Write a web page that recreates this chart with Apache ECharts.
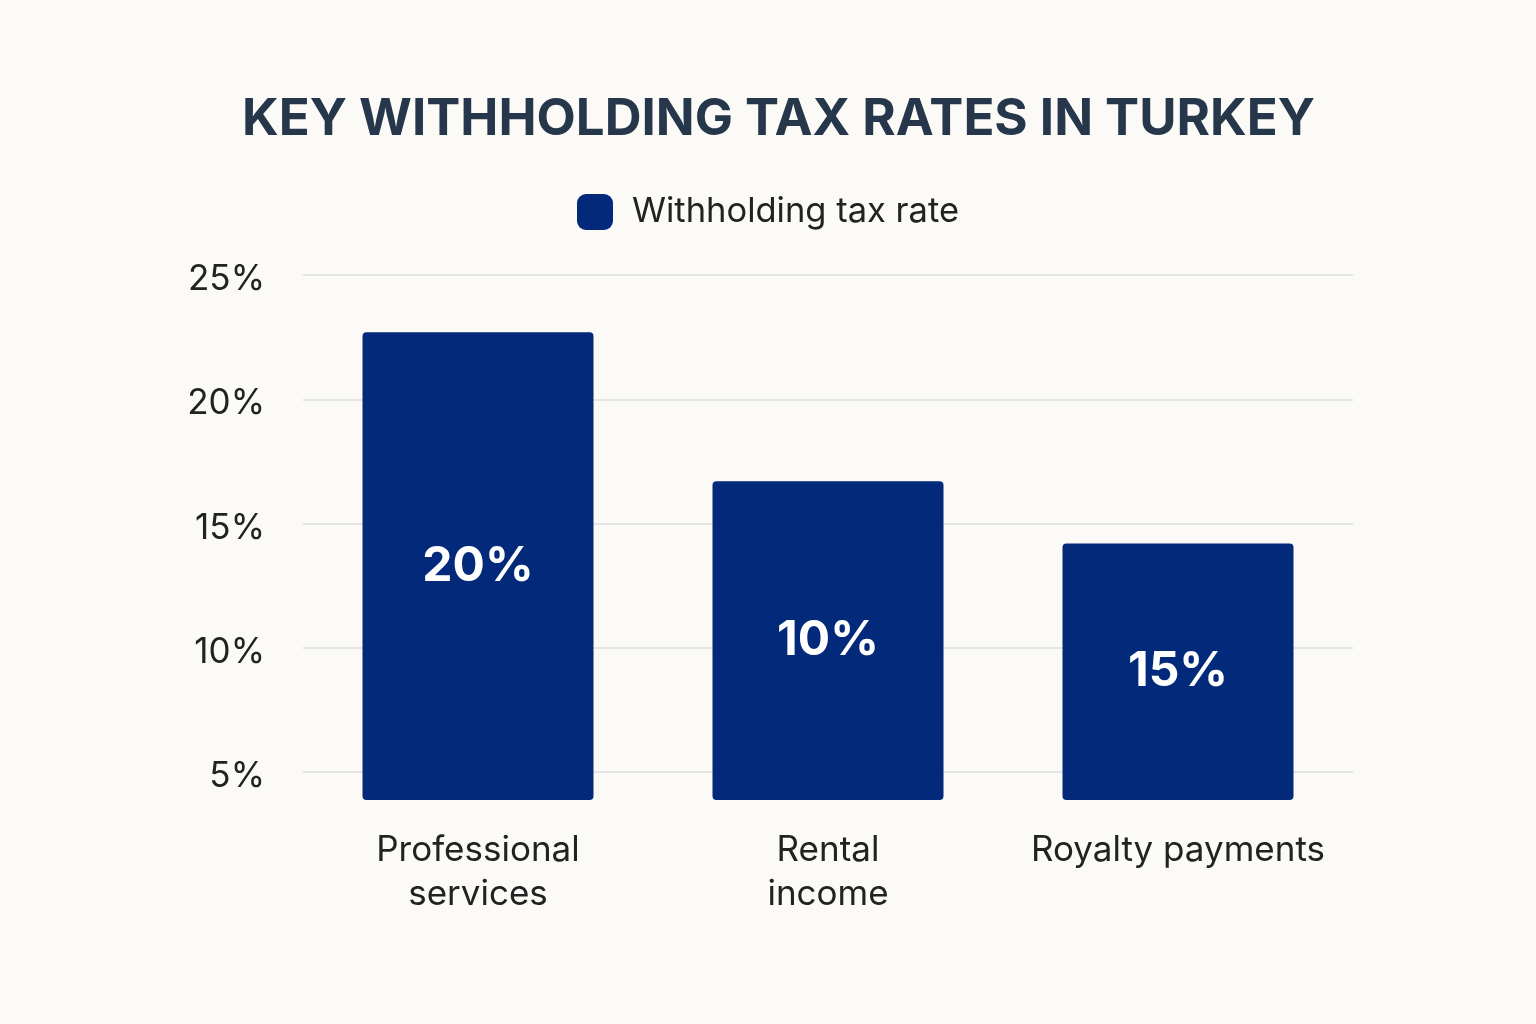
<!DOCTYPE html>
<html><head><meta charset="utf-8">
<script src="https://cdn.jsdelivr.net/npm/echarts@6/dist/echarts.min.js"></script>
<style>html,body{margin:0;padding:0;background:#fbfaf7;}#c{width:1536px;height:1024px;}</style>
</head><body><div id="c"></div>
<script>
const categories = ['Professional\nservices', 'Rental\nincome', 'Royalty payments'];
const barValues = [22.7, 16.7, 14.2];
const barLabels = ['20%', '10%', '15%'];
const gridTicks = [5, 10, 15, 20, 25];
const seriesName = 'Withholding tax rate';
const titleText = 'KEY WITHHOLDING TAX RATES IN TURKEY';

const chart = echarts.init(document.getElementById('c'));
chart.setOption({
  backgroundColor: '#fbfaf7',
  animation: false,
  title: {
    text: titleText, left: 237, top: 89,
    textStyle: { fontFamily: 'Inter', fontSize: 51, fontWeight: 'bold', color: '#26364b' }
  },
  legend: {
    top: 189, left: 'center', itemWidth: 36, itemHeight: 36, itemGap: 10,
    padding: [5, 12, 5, 0],
    icon: 'roundRect',
    textStyle: { fontFamily: 'Inter', fontSize: 34.5, color: '#222', padding: [0,0,0,14] },
    data: [seriesName]
  },
  grid: { left: 303, right: 183, top: 275, bottom: 224 },
  xAxis: {
    type: 'category', data: categories,
    axisLine: { show: false }, axisTick: { show: false },
    axisLabel: { interval: 0, fontFamily: 'Inter', fontSize: 35, color: '#222', lineHeight: 44, margin: 28 }
  },
  yAxis: {
    type: 'value', min: 3.875, max: 25, interval: 0.125,
    axisLine: { show: false }, axisTick: { show: false }, splitLine: { show: false },
    axisLabel: {
      fontFamily: 'Inter', fontSize: 35, color: '#222', margin: 38,
      formatter: v => (Math.abs(v / 5 - Math.round(v / 5)) < 1e-6) ? '{a|' + Math.round(v) + '%}' : '',
      rich: { a: { fontFamily: 'Inter', fontSize: 35, color: '#222', padding: [9, 0, 0, 0] } }
    }
  },
  series: [{
    name: seriesName, type: 'bar', data: barValues, barWidth: 231,
    itemStyle: { color: '#03297a', borderRadius: 4 },
    label: {
      show: true, position: 'inside', color: '#fff', fontFamily: 'Inter',
      fontSize: 48, fontWeight: 'bold', formatter: p => barLabels[p.dataIndex]
    },
    markLine: {
      z: 1, silent: true, symbol: 'none', label: { show: false },
      lineStyle: { color: '#dcdcdc', width: 1.5, type: 'solid' },
      data: gridTicks.map(t => ({ yAxis: t }))
    }
  }]
});
</script></body></html>
